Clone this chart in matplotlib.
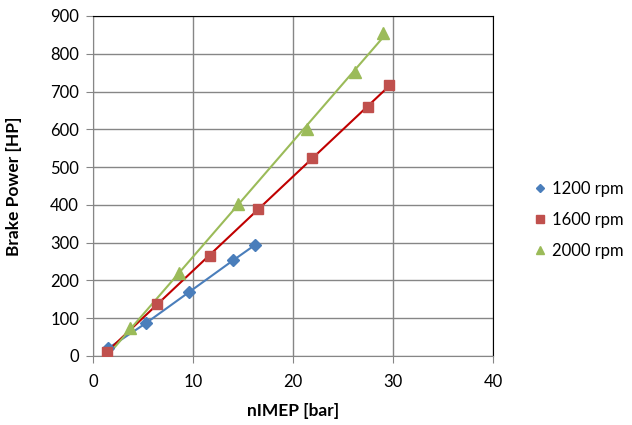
import numpy as np
import matplotlib.pyplot as plt

# Datos
x_1200 = [1.5, 5.3, 9.6, 14.0, 16.2]
y_1200 = [20, 87, 169, 253, 294]
x_1600 = [1.4, 6.4, 11.7, 16.5, 21.9, 27.5, 29.6]
y_1600 = [11, 138, 265, 389, 524, 658, 717]
x_2000 = [3.7, 8.6, 14.5, 21.4, 26.2, 29.0]
y_2000 = [73, 219, 402, 602, 752, 854]

plt.rcParams['font.family'] = ['Lato', 'DejaVu Sans']

fig = plt.figure(figsize=(6.32, 4.25), dpi=100)
ax = fig.add_axes([93/632, 1 - 356/425, 400/632, 340/425])

azul = '#4A7EBB'
rojo = '#C0504D'
verde = '#9BBB59'

# 1200 rpm: línea que une los puntos
ax.plot(x_1200, y_1200, color=azul, lw=1.5, zorder=3)
ax.plot(x_1200, y_1200, 'D', color=azul, ms=6, zorder=4, label='1200 rpm')

# 1600 y 2000 rpm: línea de tendencia lineal
p = np.polyfit(x_1600, y_1600, 1)
xs = np.array([x_1600[0], x_1600[-1]])
ax.plot(xs, np.polyval(p, xs), color='#C00000', lw=1.5, zorder=3)
ax.plot(x_1600, y_1600, 's', color=rojo, ms=7.5, zorder=4, label='1600 rpm')

p = np.polyfit(x_2000, y_2000, 1)
xs = np.array([1.4, x_2000[-1]])
ax.plot(xs, np.polyval(p, xs), color=verde, lw=1.5, zorder=3)
ax.plot(x_2000, y_2000, '^', color=verde, ms=8, zorder=5, label='2000 rpm')

ax.set_xlim(0, 40)
ax.set_ylim(0, 900)
ax.set_xticks(range(0, 41, 10))
ax.set_yticks(range(0, 901, 100))
ax.grid(True, color='#868686', lw=1)
ax.set_axisbelow(True)
ax.tick_params(labelsize=12, color='#868686', length=5, direction='out')
ax.tick_params(axis='x', pad=8)
ax.tick_params(axis='y', pad=5)
for s in ['left', 'bottom']:
    ax.spines[s].set_color('#868686')
for s in ['top', 'right']:
    ax.spines[s].set_color('black')

ax.set_xlabel('nIMEP [bar]', fontsize=12.5, fontweight='bold', labelpad=9)
ax.set_ylabel('Brake Power [HP]', fontsize=12.5, fontweight='bold', labelpad=20)

ax.legend(loc='center left', bbox_to_anchor=(1.06, 0.40), frameon=False,
          fontsize=12, handletextpad=0.2, labelspacing=0.9, handlelength=1.0,
          markerscale=0.7)

fig.savefig('out.png', dpi=100)
